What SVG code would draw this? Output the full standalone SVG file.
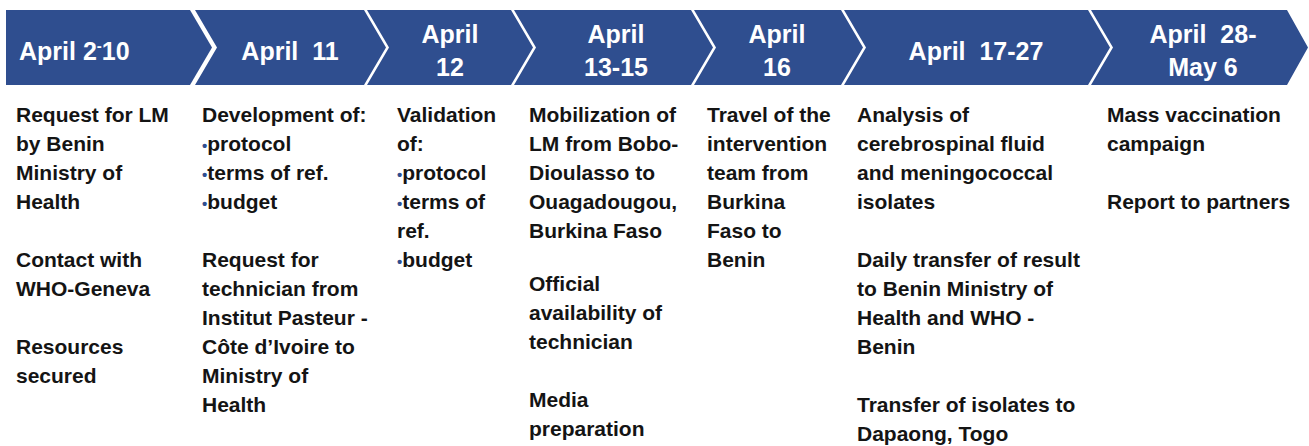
<svg xmlns="http://www.w3.org/2000/svg" width="1309" height="446" viewBox="0 0 1309 446">
<style>
.chev{fill:#2F4E8F}
.h{font-family:"Liberation Sans",Arial,sans-serif;font-weight:bold;font-size:25px;fill:#ffffff}
.b{font-family:"Liberation Sans",Arial,sans-serif;font-weight:bold;font-size:21px;fill:#141414}
.bl{fill:#2F4E8F;font-size:15px}
</style>
<rect width="1309" height="446" fill="#ffffff"/>
<g id="connectors"></g>
<g id="n1">
<polygon class="chev" points="6,10 190,10 212,47.5 190,85 6,85"/>
<text class="h" x="19" y="60">April 2<tspan font-size="15" dy="-9">-</tspan><tspan dy="9">10</tspan></text>
<text class="b" x="16"><tspan x="16" y="122">Request for LM</tspan><tspan x="16" y="151">by Benin</tspan><tspan x="16" y="180">Ministry of</tspan><tspan x="16" y="209">Health</tspan><tspan x="16" y="267">Contact with</tspan><tspan x="16" y="296">WHO-Geneva</tspan><tspan x="16" y="354">Resources</tspan><tspan x="16" y="383">secured</tspan></text>
</g>
<g id="n2">
<polygon class="chev" points="195,10 364,10 386,47.5 364,85 195,85 217,47.5"/>
<text class="h" x="290" y="60" text-anchor="middle" xml:space="preserve">April  11</text>
<text class="b"><tspan x="202" y="122">Development of:</tspan><tspan x="202" y="151"><tspan class="bl">•</tspan>protocol</tspan><tspan x="202" y="180"><tspan class="bl">•</tspan>terms of ref.</tspan><tspan x="202" y="209"><tspan class="bl">•</tspan>budget</tspan><tspan x="202" y="267">Request for</tspan><tspan x="202" y="296">technician from</tspan><tspan x="202" y="325">Institut Pasteur -</tspan><tspan x="202" y="354">Côte d’Ivoire to</tspan><tspan x="202" y="383">Ministry of</tspan><tspan x="202" y="412">Health</tspan></text>
</g>
<g id="n3">
<polygon class="chev" points="367,10 511,10 533,47.5 511,85 367,85 389,47.5"/>
<text class="h" text-anchor="middle"><tspan x="450" y="43">April</tspan><tspan x="450" y="76">12</tspan></text>
<text class="b"><tspan x="397" y="122">Validation</tspan><tspan x="397" y="151">of:</tspan><tspan x="397" y="180"><tspan class="bl">•</tspan>protocol</tspan><tspan x="397" y="209"><tspan class="bl">•</tspan>terms of</tspan><tspan x="397" y="238">ref.</tspan><tspan x="397" y="267"><tspan class="bl">•</tspan>budget</tspan></text>
</g>
<g id="n4">
<polygon class="chev" points="514,10 691,10 713,47.5 691,85 514,85 536,47.5"/>
<text class="h" text-anchor="middle"><tspan x="616" y="43">April</tspan><tspan x="616" y="76">13-15</tspan></text>
<text class="b"><tspan x="529" y="122">Mobilization of</tspan><tspan x="529" y="151">LM from Bobo-</tspan><tspan x="529" y="180">Dioulasso to</tspan><tspan x="529" y="209">Ouagadougou,</tspan><tspan x="529" y="238">Burkina Faso</tspan><tspan x="529" y="291">Official</tspan><tspan x="529" y="320">availability of</tspan><tspan x="529" y="349">technician</tspan><tspan x="529" y="407">Media</tspan><tspan x="529" y="436">preparation</tspan></text>
</g>
<g id="n5">
<polygon class="chev" points="694,10 841,10 863,47.5 841,85 694,85 716,47.5"/>
<text class="h" text-anchor="middle"><tspan x="777" y="43">April</tspan><tspan x="777" y="76">16</tspan></text>
<text class="b"><tspan x="707" y="122">Travel of the</tspan><tspan x="707" y="151">intervention</tspan><tspan x="707" y="180">team from</tspan><tspan x="707" y="209">Burkina</tspan><tspan x="707" y="238">Faso to</tspan><tspan x="707" y="267">Benin</tspan></text>
</g>
<g id="n6">
<polygon class="chev" points="844,10 1088,10 1110,47.5 1088,85 844,85 866,47.5"/>
<text class="h" x="976" y="60" text-anchor="middle" xml:space="preserve">April  17-27</text>
<text class="b"><tspan x="857" y="122">Analysis of</tspan><tspan x="857" y="151">cerebrospinal fluid</tspan><tspan x="857" y="180">and meningococcal</tspan><tspan x="857" y="209">isolates</tspan><tspan x="857" y="267">Daily transfer of result</tspan><tspan x="857" y="296">to Benin Ministry of</tspan><tspan x="857" y="325">Health and WHO -</tspan><tspan x="857" y="354">Benin</tspan><tspan x="857" y="412">Transfer of isolates to</tspan><tspan x="857" y="441">Dapaong, Togo</tspan></text>
</g>
<g id="n7">
<polygon class="chev" points="1091,10 1287,10 1308,47.5 1287,85 1091,85 1113,47.5"/>
<text class="h" text-anchor="middle" xml:space="preserve"><tspan x="1203" y="43">April  28-</tspan><tspan x="1203" y="76">May 6</tspan></text>
<text class="b"><tspan x="1107" y="122">Mass vaccination</tspan><tspan x="1107" y="151">campaign</tspan><tspan x="1107" y="209">Report to partners</tspan></text>
</g>
</svg>
